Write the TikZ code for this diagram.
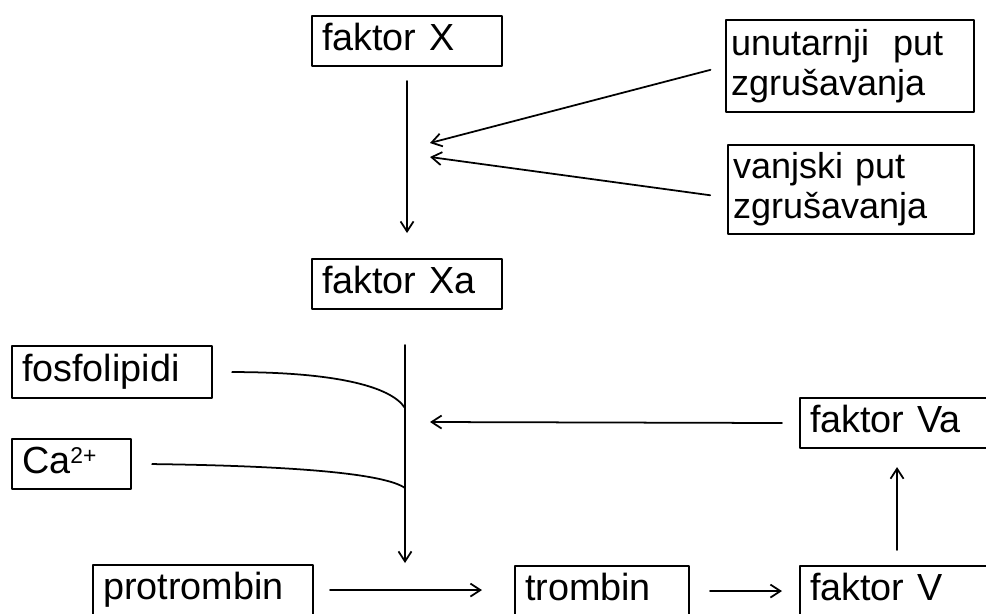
\documentclass[tikz,border=0pt]{standalone}
\usepackage{fontspec}
\setmainfont{Liberation Sans}
\usetikzlibrary{arrows.meta}
\newcommand\podupirac{\rule[-5pt]{0pt}{21pt}}
\tikzset{okvir/.style={draw,line width=1.2pt,anchor=north west,align=left,inner xsep=0.2cm,inner ysep=0pt,minimum height=1cm,font=\fontsize{21.5}{23}\selectfont,execute at begin node=\podupirac},
	okvir2/.style={draw,line width=1.2pt,anchor=north west,align=left,inner xsep=0.1cm,inner ysep=0pt,font=\fontsize{20.5}{22.7}\selectfont},
	pil/.style={line width=1pt,-{Straight Barb[length=2mm,width=2.6mm]}}}

\begin{document}
\begin{tikzpicture}[line cap=round,line join=round,x=0.02cm,y=-0.02cm]
			\useasboundingbox (0,0) rectangle (986,613);
			\clip (0,0) rectangle (986,613);
			\node[okvir,text width=3.4cm] (fX) at (311,15) {faktor X};
			\node[okvir,text width=3.4cm] (fXa) at (311,258) {faktor Xa};
			\node[okvir2,text width=4.76cm,minimum height=1.84cm] (unut) at (725,19) {unutarnji~~put\\zgrušavanja};
			\node[okvir2,text width=4.72cm,minimum height=1.78cm] (vanj) at (727,144) {vanjski put\\zgrušavanja};
			\node[okvir,text width=3.6cm,minimum height=1.04cm] (fosfo) at (11,345) {fosfolipidi};
			\node[okvir,text width=1.98cm] (ca) at (11,438) {Ca\raisebox{6pt}{\fontsize{13}{13}\selectfont 2+}};
			\node[okvir,text width=3.48cm] (fVa) at (799,397) {faktor Va};
			\node[okvir,text width=4.0cm] (protro) at (92,564) {protrombin};
			\node[okvir,text width=3.08cm] (tromb) at (514,565) {trombin};
			\node[okvir,text width=3.48cm] (fV) at (799,565) {faktor V};
			\coordinate (m1) at (430,143);
			\coordinate (m2) at (430,157);
			\coordinate (m3) at (430,422);
			\coordinate (v1) at (405,345);
			\coordinate (v2) at (405,563);
			\coordinate (s1) at (405,408);
			\coordinate (s2) at (405,488);
			\draw[pil,shorten <=0.28cm,shorten >=0.5cm] (fX.south) -- (fXa.north);
			\draw[pil,shorten <=0.3cm] (unut.west) -- (m1);
			\draw[pil,shorten <=0.34cm] ([yshift=-0.16cm]vanj.west) -- (m2);
			\draw[pil] (v1) -- (v2);
			\draw[line width=1pt] ([xshift=0.38cm]fosfo.east) .. controls (330,372) and (390,385) .. (s1);
			\draw[line width=1pt] ([xshift=0.4cm]ca.east) .. controls (300,466) and (385,474) .. (s2);
			\draw[pil,shorten <=0.34cm] (fVa.west) -- (m3);
			\draw[pil,shorten <=0.3cm,shorten >=0.36cm] (fV.north) -- (fVa.south);
			\draw[pil,shorten <=0.32cm,shorten >=0.64cm] (protro.east) -- (protro.east -| tromb.west);
			\draw[pil,shorten <=0.4cm,shorten >=0.34cm] (tromb.east) -- (fV.west);
\end{tikzpicture}
\end{document}
